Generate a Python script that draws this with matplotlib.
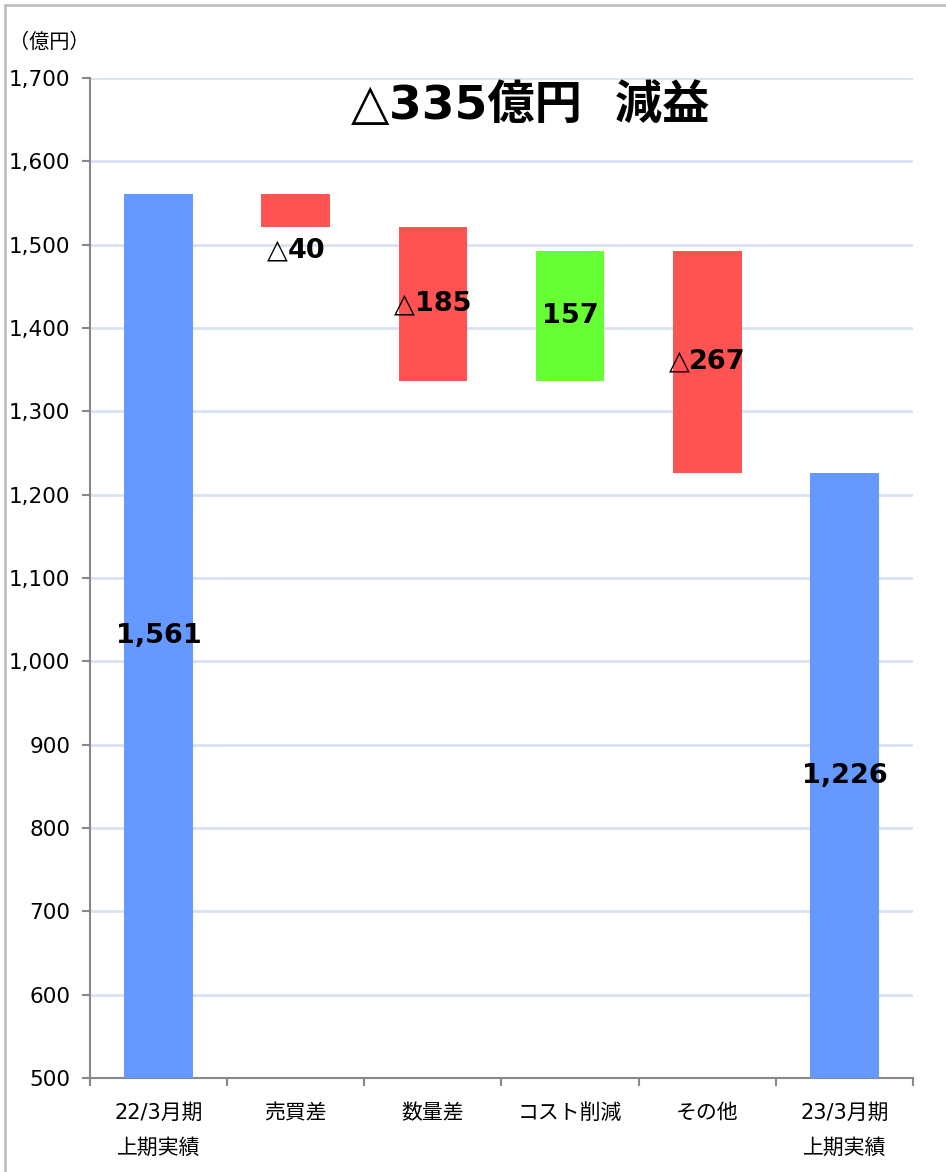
import numpy as np
import matplotlib.pyplot as plt
from matplotlib.patches import Rectangle
from matplotlib.offsetbox import TextArea, HPacker, AnnotationBbox

plt.rcParams["font.family"] = ["DejaVu Sans", "Noto Sans CJK JP"]

categories = ["22/3月期\n上期実績", "売買差", "数量差", "コスト削減", "その他", "23/3月期\n上期実績"]
changes = [1561, -40, -185, 157, -267, 1226]
is_total = [True, False, False, False, False, True]
y_ticks = [500, 600, 700, 800, 900, 1000, 1100, 1200, 1300, 1400, 1500, 1600, 1700]

BLUE = "#6699FF"
RED = "#FF5252"
GREEN = "#66FF33"

# waterfall bottoms / heights
bottoms, heights, colors = [], [], []
running = 0
for v, tot in zip(changes, is_total):
    if tot:
        bottoms.append(0)
        heights.append(v)
        colors.append(BLUE)
        running = v
    else:
        if v < 0:
            bottoms.append(running + v)
            heights.append(-v)
            colors.append(RED)
        else:
            bottoms.append(running)
            heights.append(v)
            colors.append(GREEN)
        running += v

fig = plt.figure(figsize=(9.46, 11.72), dpi=100)
ax = fig.add_axes([0.0951, 0.0802, 0.8700, 0.8532])

x = np.arange(len(categories))
ax.bar(x, heights, bottom=bottoms, width=0.5, color=colors, zorder=3)

ax.set_xlim(-0.5, len(categories) - 0.5)
ax.set_ylim(500, 1700)
ax.set_yticks(y_ticks)
ax.set_yticklabels([f"{t:,}" for t in y_ticks], fontsize=15.5)
ax.yaxis.grid(True, color="#D9E1F2", lw=2, zorder=0)
ax.set_axisbelow(True)

ax.set_xticks(x)
ax.set_xticklabels(categories, fontsize=15, linespacing=1.9, va="top")
ax.tick_params(axis="x", length=0, pad=18)
ax.set_xticks(np.arange(len(categories) + 1) - 0.5, minor=True)
ax.tick_params(axis="x", which="minor", length=6, color="#888888", width=1.5)
ax.tick_params(axis="y", length=6, color="#888888", width=1.5, pad=8)

for s in ["top", "right"]:
    ax.spines[s].set_visible(False)
for s in ["left", "bottom"]:
    ax.spines[s].set_color("#888888")
    ax.spines[s].set_linewidth(1.5)


def fmt_label(v):
    if v < 0:
        return "△", f"{-v:,}"
    return "", f"{v:,}"


def put_label(xc, yc, v, size, offset=(0, 0)):
    tri, num = fmt_label(v)
    parts = []
    if tri:
        parts.append(TextArea(tri, textprops=dict(fontsize=size, fontweight="normal")))
    parts.append(TextArea(num, textprops=dict(fontsize=size, fontweight="bold")))
    box = HPacker(children=parts, pad=0, sep=0, align="baseline")
    ab = AnnotationBbox(box, (xc, yc), xybox=offset, boxcoords="offset points",
                        frameon=False, box_alignment=(0.5, 0.5), zorder=5)
    ax.add_artist(ab)


ymin = ax.get_ylim()[0]
for i, (b, h, v, tot) in enumerate(zip(bottoms, heights, changes, is_total)):
    if tot:
        put_label(i, (ymin + b + h) / 2, v, 19.5)
    elif abs(v) < 60:
        put_label(i, b, v, 19.5, offset=(0, -17))
    else:
        put_label(i, b + h / 2, v, 19.5)

# headline
tri = TextArea("△", textprops=dict(fontsize=36, fontweight="normal"))
num = TextArea("335億円  減益", textprops=dict(fontsize=34, fontweight="bold"))
head = HPacker(children=[tri, num], pad=0, sep=0, align="baseline")
ax.add_artist(AnnotationBbox(head, (0.535, 0.973), xycoords="axes fraction",
                             frameon=False, box_alignment=(0.5, 0.5), zorder=6))

fig.text(0.010, 0.964, "（億円）", fontsize=14.5, va="center", ha="left")

fig.patches.append(Rectangle((0.0053, -0.01), 1.02, 0.0057 + 1.0, transform=fig.transFigure,
                             fill=False, edgecolor="#C0C0C0", lw=2))

fig.savefig("out.png", dpi=100)
